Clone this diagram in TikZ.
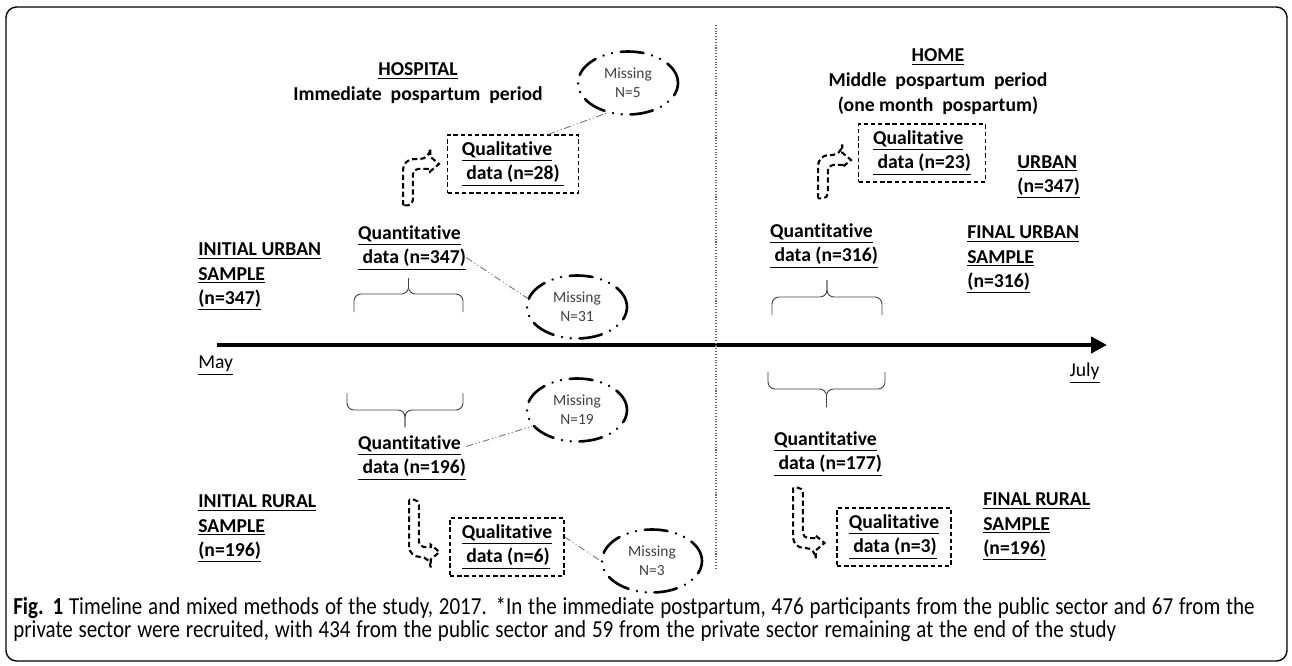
\documentclass[tikz,border=0pt]{standalone}
\usepackage{fontspec}
\setmainfont[Ligatures={NoCommon}]{Carlito}
\newfontfamily\capfont[FakeStretch=0.86]{Carlito}
\usepackage{tikz}
\usetikzlibrary{arrows.meta}
\usetikzlibrary{shapes.geometric}
\usetikzlibrary{calc}
\usetikzlibrary{positioning}
\tikzstyle{lbl} = [align=left, inner sep=0pt, font=\fontsize{11.2}{13.8}\selectfont\bfseries]
\tikzstyle{head} = [align=center, inner sep=0pt, font=\fontsize{11.2}{14.2}\selectfont\bfseries]
\tikzstyle{qbox} = [rectangle, draw, line width=0.6pt, dash pattern=on 2.5pt off 1.6pt,
    align=left, minimum height=1.16cm, inner sep=0pt, font=\fontsize{11.2}{13.8}\selectfont\bfseries]
\tikzstyle{miss} = [ellipse, draw, line width=1.5pt, line cap=round,
    dash pattern=on 13pt off 5pt on 0.01pt off 5pt on 0.01pt off 5pt,
    minimum width=2cm, minimum height=1.26cm, inner sep=0pt, align=center,
    text=black!75, font=\fontsize{8.8}{10.8}\selectfont]
\tikzstyle{link} = [draw, black!55, line width=0.5pt,
    dash pattern=on 4pt off 1.5pt on 0.6pt off 1.5pt on 0.6pt off 1.5pt]
\tikzstyle{hollow} = [draw, line width=1.2pt, dash pattern=on 3pt off 1.8pt]
\tikzstyle{brc} = [draw, black!75, line width=0.5pt, rounded corners=4pt]
\tikzstyle{tline} = [draw, line width=2.8pt, -{Triangle[length=9pt,width=9pt]}]

\begin{document}
\begin{tikzpicture}[x=0.02cm, y=-0.02cm]
\useasboundingbox (0,0) rectangle (1292,666);
\draw[line width=0.8pt, rounded corners=6pt] (6,7) rectangle (1287,661);

% hospital side
	\node [head] (hosp) at (418,83) {\underline{HOSPITAL}\\Immediate\ \ pospartum\ \ period};
	\node [miss] (m5) at (628,83) {Missing\\N=5};
	\node [qbox, minimum width=2.62cm] (ql28) at (513,164) {\underline{Qualitative}\\\underline{\ data (n=28)\ }};
	\node [lbl] (qn347) at (412,248) {\underline{Quantitative}\\\underline{\ data (n=347)}};
	\node [lbl, anchor=west] (iu) at (198,277) {\underline{INITIAL URBAN}\\\underline{SAMPLE}\\\underline{(n=347)}};
	\node [miss] (m31) at (577,307) {Missing\\N=31};
	\node [miss] (m19) at (577,410) {Missing\\N=19};
	\node [lbl] (qn196) at (412,458) {\underline{Quantitative}\\\underline{\ data (n=196)}};
	\node [lbl, anchor=west] (ir) at (198,529) {\underline{INITIAL RURAL}\\\underline{SAMPLE}\\\underline{(n=196)}};
	\node [qbox, minimum width=2.28cm] (ql6) at (507,547) {\underline{Qualitative}\\\underline{\ data (n=6)}};
	\node [miss] (m3) at (652,561) {Missing\\N=3};

% home side
	\node [head] (home) at (938,82) {\underline{HOME}\\Middle\ \ pospartum\ \ period\\(one month\ \ pospartum)};
	\node [qbox, minimum width=2.54cm] (ql23) at (922,153) {\underline{Qualitative}\\\underline{\ data (n=23)}};
	\node [lbl, anchor=west] (urb) at (1017,177) {\underline{URBAN}\\\underline{(n=347)}};
	\node [lbl] (qn316) at (824,246) {\underline{Quantitative}\\\underline{\ data (n=316)}};
	\node [lbl, anchor=west] (fu) at (967,260) {\underline{FINAL URBAN}\\\underline{SAMPLE}\\\underline{(n=316)}};
	\node [lbl] (qn177) at (828,454) {\underline{Quantitative}\\\underline{\ data (n=177)}};
	\node [qbox, minimum width=2.28cm] (ql3) at (894,537) {\underline{Qualitative}\\\underline{\ data (n=3)}};
	\node [lbl, anchor=west] (fr) at (983,527) {\underline{FINAL RURAL}\\\underline{SAMPLE}\\\underline{(n=196)}};

% timeline
	\coordinate (t0) at (217,345);
	\coordinate (t1) at (1107,345);
	\coordinate (v0) at (716,25);
	\coordinate (v1) at (716,568);
	\node [anchor=west, inner sep=0pt, font=\fontsize{11.2}{13.8}\selectfont] (may) at (198,366) {\underline{May}};
	\node [anchor=east, inner sep=0pt, font=\fontsize{11.2}{13.8}\selectfont] (july) at (1100,373) {\underline{July}};
	\path [tline] (t0) -- (t1);
	\draw [black!60, densely dotted, line width=0.6pt] (v0) -- (v1);

	\foreach \xl/\xr/\ya/\yh/\yt in {354/463/312/294/278, 772/882/315/297/280, 347/463/393/410/427, 768/885/372/389/407}
	{
	\path [brc] (\xl,\ya) |- ({(\xl+\xr)/2},\yh) -- ({(\xl+\xr)/2},\yt);
	\path [brc] (\xr,\ya) |- ({(\xl+\xr)/2},\yh) -- ({(\xl+\xr)/2},\yt);
	}

% hollow bent arrows
	\coordinate (a1s) at ([xshift=-0.08cm, yshift=0.4cm]qn347.north);
	\coordinate (a1e) at ([xshift=-0.16cm]ql28.west);
	\coordinate (a2s) at ([xshift=0.04cm, yshift=-0.38cm]qn196.south);
	\coordinate (a2e) at ([xshift=-0.2cm, yshift=-0.1cm]ql6.west);
	\coordinate (a3s) at ([xshift=-0.02cm, yshift=0.5cm]qn316.north);
	\coordinate (a3e) at ([xshift=-0.14cm, yshift=-0.14cm]ql23.west);
	\coordinate (a4s) at ([xshift=-0.6cm, yshift=-0.22cm]qn177.south);
	\coordinate (a4e) at ([xshift=-0.24cm, yshift=-0.12cm]ql3.west);
	\foreach \s/\e/\d in {a1s/a1e/1, a2s/a2e/-1, a3s/a3e/1, a4s/a4e/-1}
	{
	\path [hollow] let \p1=(\s), \p2=(\e) in
	  (\x1-2.8pt,\y1) [rounded corners=6pt] -- (\x1-2.8pt,\y2+\d*2.8pt) -- (\x2-5pt,\y2+\d*2.8pt)
	  [sharp corners] -- (\x2-5pt,\y2+\d*4.2pt) -- (\x2,\y2) -- (\x2-5pt,\y2-\d*4.2pt) -- (\x2-5pt,\y2-\d*2.8pt)
	  [rounded corners=3pt] -- (\x1+2.8pt,\y2-\d*2.8pt) -- (\x1+2.8pt,\y1) [sharp corners] -- cycle;
	}

	\path [link] (ql28.40) -- (m5.235);
	\path [link] (qn347.-10) -- (m31.170);
	\path [link] (qn196.12) -- (m19.200);
	\path [link] (ql6.10) -- (m3.west);

	\node [anchor=north west, align=left, inner sep=0pt, text width=25.8cm] (cap) at (13,597)
	{\capfont\fontsize{13.9}{14.2}\selectfont\textbf{Fig. 1} Timeline and mixed methods of the study, 2017. *In the immediate postpartum, 476 participants from the public sector and 67 from the\\
	private sector were recruited, with 434 from the public sector and 59 from the private sector remaining at the end of the study};
\end{tikzpicture}
\end{document}
